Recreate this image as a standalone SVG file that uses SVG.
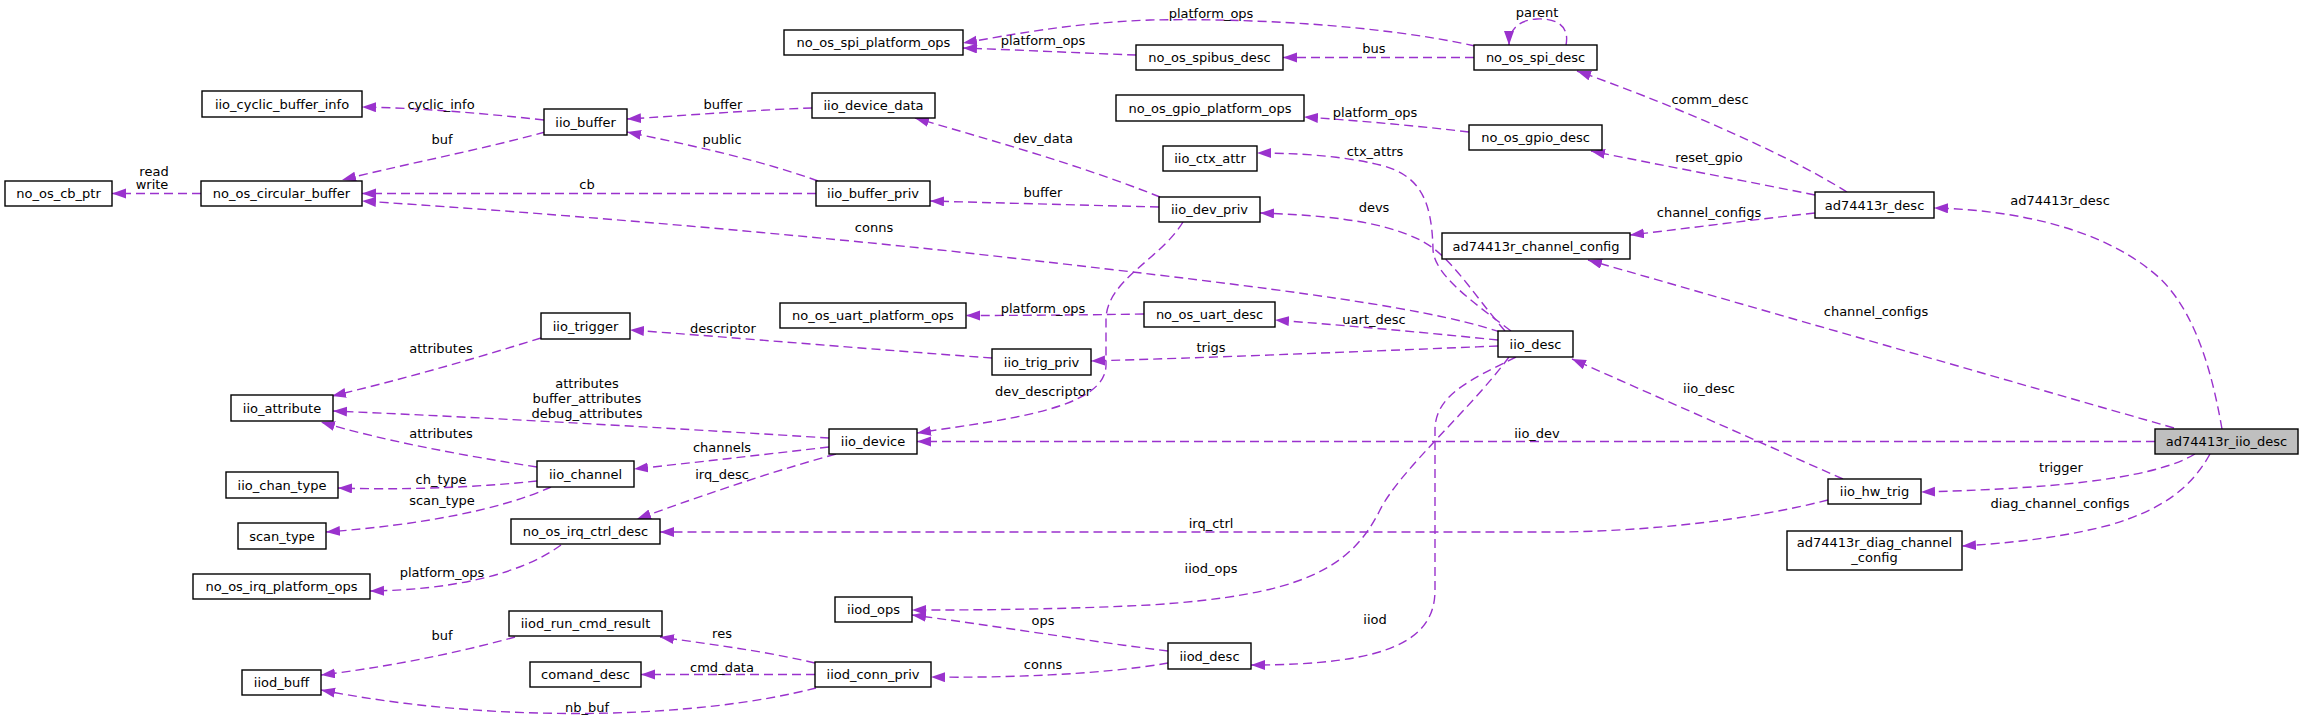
<svg xmlns="http://www.w3.org/2000/svg" width="2303" height="724" viewBox="0 0 2303 724">
<style>
text{font-family:"DejaVu Sans","Liberation Sans",sans-serif;font-size:13px;fill:#000;text-anchor:middle}
.n rect{fill:#fff;stroke:#000;stroke-width:1.4}
.n rect.f{fill:#bfbfbf}
.e path{fill:none;stroke:#9a32cd;stroke-width:1.4;stroke-dasharray:9,5;marker-end:url(#a)}
</style>
<defs>
<marker id="a" markerUnits="userSpaceOnUse" markerWidth="15" markerHeight="11" refX="14" refY="5" orient="auto">
<path d="M0,0 L14,5 L0,10 z" fill="#9a32cd" stroke="none"/>
</marker>
</defs>
<rect width="2303" height="724" fill="#fff"/>
<g id="edges" class="e">
<path d="M201,193.5 L112,193.5"/>
<path d="M544,120 C480,113 420,108 362,107"/>
<path d="M545,132 C480,150 400,165 342,180"/>
<path d="M812,108 C750,110 680,116 627,119"/>
<path d="M818,181 C760,160 690,145 627,132"/>
<path d="M816,193.5 L362,193.5"/>
<path d="M1500,332 C1420,305 1250,285 950,251 C700,225 500,210 362,201"/>
<path d="M1160,197 C1080,165 990,140 915,118"/>
<path d="M1159,207 C1080,205 1000,203 930,201"/>
<path d="M1505,331 C1470,290 1450,255 1420,240 C1380,220 1320,215 1260,213"/>
<path d="M1511,331 C1470,300 1435,275 1433,250 C1432,200 1420,175 1380,165 C1340,155 1290,153 1257,153"/>
<path d="M1136,55 C1080,53 1020,50 963,48"/>
<path d="M1475,46 C1380,25 1250,18 1150,20 C1070,23 1010,35 963,43"/>
<path d="M1474,57.5 L1283,57.5"/>
<path d="M1566,45 C1570,25 1555,18 1537,19 C1518,20 1509,30 1509,45"/>
<path d="M1469,132 C1410,125 1350,120 1304,117"/>
<path d="M1847,192 C1780,150 1660,100 1577,71"/>
<path d="M1815,195 C1740,180 1660,165 1591,151"/>
<path d="M1815,213 C1750,220 1690,228 1630,235"/>
<path d="M2222,429 C2210,360 2190,300 2150,270 C2100,230 2020,210 1934,208"/>
<path d="M2174,428 L1588,260"/>
<path d="M2155,441.5 L917,441.5"/>
<path d="M2195,454 C2160,475 2080,488 1921,492"/>
<path d="M2210,454 C2190,490 2160,510 2110,525 C2060,538 2010,543 1962,546"/>
<path d="M1843,479 L1572,359"/>
<path d="M1828,500 C1750,520 1650,531 1560,532 L660,532"/>
<path d="M1498,340 C1420,332 1340,325 1275,320"/>
<path d="M1144,314 C1080,315 1020,315.5 966,315.5"/>
<path d="M1498,346 C1350,352 1200,358 1091,361"/>
<path d="M1509,357 C1470,410 1400,470 1380,510 C1350,570 1300,595 1150,605 C1050,610 960,610 912,610"/>
<path d="M1516,357 C1470,380 1435,395 1435,430 L1435,590 C1435,640 1390,665 1251,665"/>
<path d="M1183,222 C1160,260 1106,280 1106,320 L1106,365 C1106,410 1000,420 917,433"/>
<path d="M992,358 C880,350 740,338 630,330"/>
<path d="M541,338 C470,360 400,380 332,396"/>
<path d="M829,438 C700,430 500,418 333,411"/>
<path d="M537,467 C460,455 380,440 321,422"/>
<path d="M829,447 C760,455 690,463 634,469"/>
<path d="M537,481 C470,488 400,490 338,488"/>
<path d="M551,487 C500,510 420,525 326,532"/>
<path d="M836,454 C760,475 690,500 637,519"/>
<path d="M561,545 C520,575 450,590 370,591"/>
<path d="M1168,651 C1080,640 990,625 912,615"/>
<path d="M1168,663 C1100,675 1000,678 931,677"/>
<path d="M815,663 C760,650 700,643 660,637"/>
<path d="M815,674.5 L641,674.5"/>
<path d="M816,688 C700,718 500,725 321,690"/>
<path d="M515,637 C450,655 380,668 321,675"/>
</g>
<g id="edge-labels">
<text x="154" y="175.5">read</text>
<text x="152" y="188.5">write</text>
<text x="441" y="108.5">cyclic_info</text>
<text x="442" y="143.5">buf</text>
<text x="723" y="108.5">buffer</text>
<text x="722" y="143.5">public</text>
<text x="587" y="188.5">cb</text>
<text x="874" y="231.5">conns</text>
<text x="1043" y="142.5">dev_data</text>
<text x="1043" y="196.5">buffer</text>
<text x="1374" y="211.5">devs</text>
<text x="1375" y="155.5">ctx_attrs</text>
<text x="1043" y="44.5">platform_ops</text>
<text x="1211" y="17.5">platform_ops</text>
<text x="1374" y="52.5">bus</text>
<text x="1537" y="16.5">parent</text>
<text x="1375" y="116.5">platform_ops</text>
<text x="1710" y="103.5">comm_desc</text>
<text x="1709" y="161.5">reset_gpio</text>
<text x="1709" y="216.5">channel_configs</text>
<text x="2060" y="204.5">ad74413r_desc</text>
<text x="1876" y="315.5">channel_configs</text>
<text x="1537" y="437.5">iio_dev</text>
<text x="2061" y="471.5">trigger</text>
<text x="2060" y="507.5">diag_channel_configs</text>
<text x="1709" y="392.5">iio_desc</text>
<text x="1211" y="527.5">irq_ctrl</text>
<text x="1374" y="323.5">uart_desc</text>
<text x="1211" y="351.5">trigs</text>
<text x="1211" y="572.5">iiod_ops</text>
<text x="1375" y="623.5">iiod</text>
<text x="1043" y="395.5">dev_descriptor</text>
<text x="1043" y="312.5">platform_ops</text>
<text x="723" y="332.5">descriptor</text>
<text x="441" y="352.5">attributes</text>
<text x="587" y="387.5">attributes</text>
<text x="587" y="402.5">buffer_attributes</text>
<text x="587" y="417.5">debug_attributes</text>
<text x="441" y="437.5">attributes</text>
<text x="722" y="451.5">channels</text>
<text x="441" y="483.5">ch_type</text>
<text x="442" y="504.5">scan_type</text>
<text x="722" y="478.5">irq_desc</text>
<text x="442" y="576.5">platform_ops</text>
<text x="1043" y="624.5">ops</text>
<text x="1043" y="668.5">conns</text>
<text x="722" y="637.5">res</text>
<text x="722" y="671.5">cmd_data</text>
<text x="587" y="711.5">nb_buf</text>
<text x="442" y="639.5">buf</text>
</g>
<g id="n_no_os_cb_ptr" class="n"><rect x="5" y="181" width="107" height="25"/><text x="58.5" y="198">no_os_cb_ptr</text></g>
<g id="n_no_os_circular_buffer" class="n"><rect x="201" y="181" width="161" height="25"/><text x="281.5" y="198">no_os_circular_buffer</text></g>
<g id="n_iio_cyclic_buffer_info" class="n"><rect x="202" y="91" width="160" height="26"/><text x="282" y="108.5">iio_cyclic_buffer_info</text></g>
<g id="n_iio_buffer" class="n"><rect x="544" y="109" width="83" height="26"/><text x="585.5" y="126.5">iio_buffer</text></g>
<g id="n_iio_device_data" class="n"><rect x="812" y="93" width="123" height="25"/><text x="873.5" y="110">iio_device_data</text></g>
<g id="n_iio_buffer_priv" class="n"><rect x="816" y="181" width="114" height="25"/><text x="873" y="198">iio_buffer_priv</text></g>
<g id="n_no_os_spi_platform_ops" class="n"><rect x="784" y="30" width="179" height="25"/><text x="873.5" y="47">no_os_spi_platform_ops</text></g>
<g id="n_no_os_spibus_desc" class="n"><rect x="1136" y="45" width="147" height="25"/><text x="1209.5" y="62">no_os_spibus_desc</text></g>
<g id="n_no_os_spi_desc" class="n"><rect x="1474" y="45" width="123" height="25"/><text x="1535.5" y="62">no_os_spi_desc</text></g>
<g id="n_no_os_gpio_platform_ops" class="n"><rect x="1116" y="95" width="188" height="26"/><text x="1210" y="112.5">no_os_gpio_platform_ops</text></g>
<g id="n_no_os_gpio_desc" class="n"><rect x="1469" y="125" width="133" height="25"/><text x="1535.5" y="142">no_os_gpio_desc</text></g>
<g id="n_iio_ctx_attr" class="n"><rect x="1163" y="146" width="94" height="25"/><text x="1210" y="163">iio_ctx_attr</text></g>
<g id="n_iio_dev_priv" class="n"><rect x="1159" y="197" width="101" height="25"/><text x="1209.5" y="214">iio_dev_priv</text></g>
<g id="n_ad74413r_desc" class="n"><rect x="1815" y="192" width="119" height="26"/><text x="1874.5" y="209.5">ad74413r_desc</text></g>
<g id="n_ad74413r_channel_config" class="n"><rect x="1442" y="233" width="188" height="26"/><text x="1536" y="250.5">ad74413r_channel_config</text></g>
<g id="n_no_os_uart_platform_ops" class="n"><rect x="780" y="303" width="186" height="25"/><text x="873" y="320">no_os_uart_platform_ops</text></g>
<g id="n_no_os_uart_desc" class="n"><rect x="1144" y="302" width="131" height="25"/><text x="1209.5" y="319">no_os_uart_desc</text></g>
<g id="n_iio_trigger" class="n"><rect x="541" y="313" width="89" height="26"/><text x="585.5" y="330.5">iio_trigger</text></g>
<g id="n_iio_trig_priv" class="n"><rect x="992" y="349" width="99" height="26"/><text x="1041.5" y="366.5">iio_trig_priv</text></g>
<g id="n_iio_desc" class="n"><rect x="1498" y="331" width="75" height="26"/><text x="1535.5" y="348.5">iio_desc</text></g>
<g id="n_iio_attribute" class="n"><rect x="231" y="395" width="102" height="26"/><text x="282" y="412.5">iio_attribute</text></g>
<g id="n_iio_device" class="n"><rect x="829" y="429" width="88" height="25"/><text x="873" y="446">iio_device</text></g>
<g id="n_ad74413r_iio_desc" class="n"><rect class="f" x="2155" y="429" width="143" height="25"/><text x="2226.5" y="446">ad74413r_iio_desc</text></g>
<g id="n_iio_chan_type" class="n"><rect x="226" y="472" width="112" height="26"/><text x="282" y="489.5">iio_chan_type</text></g>
<g id="n_iio_channel" class="n"><rect x="537" y="461" width="97" height="26"/><text x="585.5" y="478.5">iio_channel</text></g>
<g id="n_scan_type" class="n"><rect x="238" y="523" width="88" height="26"/><text x="282" y="540.5">scan_type</text></g>
<g id="n_no_os_irq_ctrl_desc" class="n"><rect x="511" y="519" width="149" height="25"/><text x="585.5" y="536">no_os_irq_ctrl_desc</text></g>
<g id="n_iio_hw_trig" class="n"><rect x="1828" y="479" width="93" height="25"/><text x="1874.5" y="496">iio_hw_trig</text></g>
<g id="n_ad74413r_diag_channel_config" class="n"><rect x="1787" y="531" width="175" height="39"/><text x="1874.5" y="546.5">ad74413r_diag_channel</text><text x="1874.5" y="561.5">_config</text></g>
<g id="n_no_os_irq_platform_ops" class="n"><rect x="193" y="574" width="177" height="25"/><text x="281.5" y="591">no_os_irq_platform_ops</text></g>
<g id="n_iiod_ops" class="n"><rect x="835" y="597" width="77" height="25"/><text x="873.5" y="614">iiod_ops</text></g>
<g id="n_iiod_run_cmd_result" class="n"><rect x="509" y="611" width="153" height="25"/><text x="585.5" y="628">iiod_run_cmd_result</text></g>
<g id="n_comand_desc" class="n"><rect x="530" y="662" width="111" height="25"/><text x="585.5" y="679">comand_desc</text></g>
<g id="n_iiod_conn_priv" class="n"><rect x="815" y="662" width="116" height="25"/><text x="873" y="679">iiod_conn_priv</text></g>
<g id="n_iiod_desc" class="n"><rect x="1168" y="643" width="83" height="26"/><text x="1209.5" y="660.5">iiod_desc</text></g>
<g id="n_iiod_buff" class="n"><rect x="242" y="670" width="79" height="25"/><text x="281.5" y="687">iiod_buff</text></g>
</svg>
